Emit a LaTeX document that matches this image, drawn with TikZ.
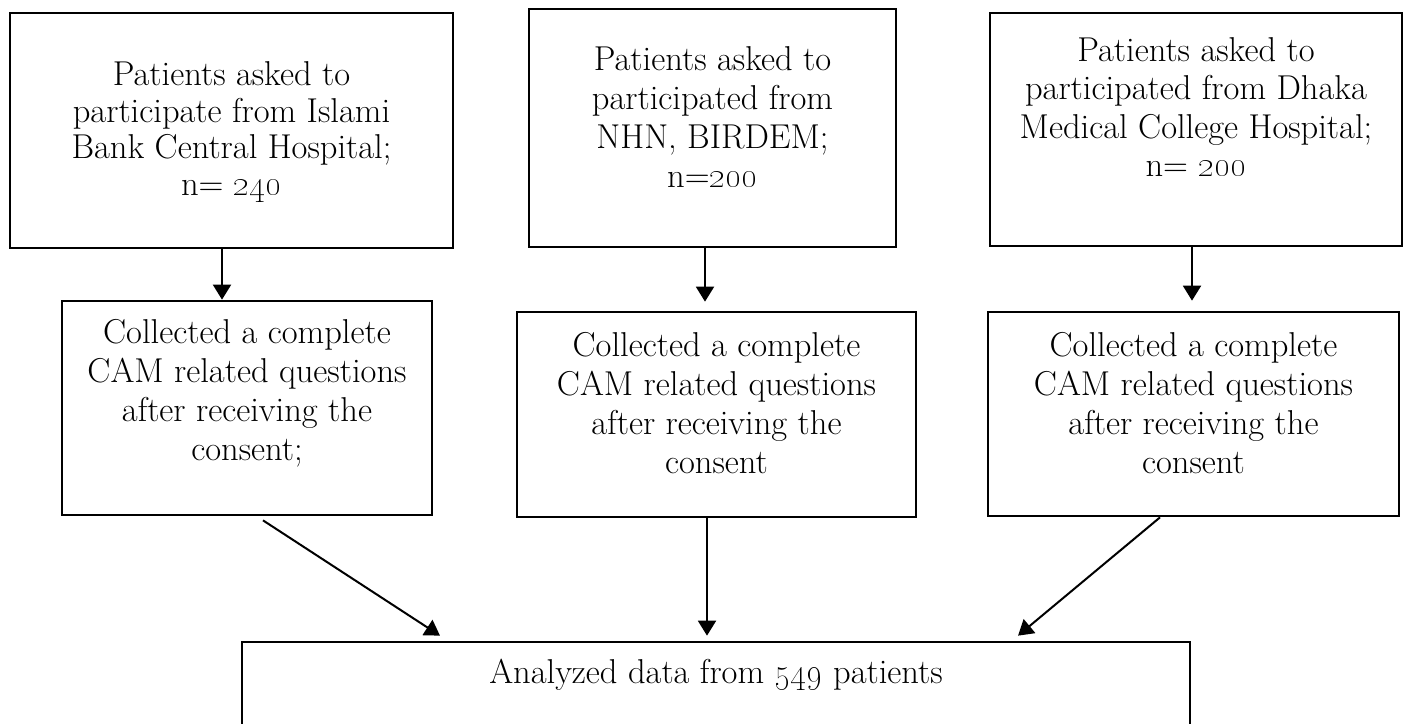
\documentclass[tikz,border=0pt]{standalone}
\usetikzlibrary{positioning}
\usetikzlibrary{arrows.meta,calc}
\tikzstyle{box}=[rectangle,draw=black,line width=2.7pt,inner sep=0pt]
\tikzstyle{boxtext}=[align=center,inner sep=0pt]
\tikzstyle{edge} = [draw,line width=2pt,-{Triangle[length=15pt,width=18pt]}]
\newcommand{\oldnum}[1]{{\fontencoding{TS1}\selectfont #1}}

\begin{document}
\begin{tikzpicture}[x=1pt,y=-1pt]
    \useasboundingbox (0,0) rectangle (1404,723);
    % First we draw the boxes
    \foreach \pos/\name/\w/\h in {{(231.5,130.5)/ia/443/235}, {(712.5,128)/ib/367/238}, {(1196,129.5)/ic/412/233}, {(247,408)/ca/370/214}, {(716.5,414.5)/cb/399/205}, {(1193.5,414)/cc/411/204}, {(716,722)/an/948/160}}
        \node[box,minimum width=\w pt,minimum height=\h pt] (\name) at \pos {};

    % Then the texts inside the boxes
    \foreach \name/\dy/\ls/\txt in {ia/-1.5/36.5/{Patients asked to\\participate from Islami\\Bank Central Hospital;\\n= \oldnum{240}}, ib/11/38.7/{Patients asked to\\participated from\\NHN, BIRDEM;\\n=\oldnum{200}}, ic/22.5/38.5/{Patients asked to\\participated from Dhaka\\Medical College Hospital;\\n= \oldnum{200}}, ca/15/39/{Collected a complete\\CAM related questions\\after receiving the\\consent;}, cb/11.5/39/{Collected a complete\\CAM related questions\\after receiving the\\consent}, cc/11/39/{Collected a complete\\CAM related questions\\after receiving the\\consent}}
        \node[boxtext,font=\fontsize{34.5}{\ls}\selectfont] (\name-t) at ([yshift=\dy pt]\name.center) {\txt};
    \node[boxtext,font=\fontsize{34.5}{38.5}\selectfont] (an-t) at ([yshift=-34pt]an.north) {Analyzed data from \oldnum{549} patients};

    % Connect boxes with arrows
    \path[edge] ([xshift=-9.5pt]ia.south) -- ([xshift=-25pt]ca.north);
    \path[edge] ([xshift=-7.5pt]ib.south) -- ([xshift=-11.5pt,yshift=9pt]cb.north);
    \path[edge] ([xshift=-4pt]ic.south) -- ([xshift=-1.5pt,yshift=10pt]cc.north);
    \path[edge] ([xshift=16pt,yshift=-4pt]ca.south) -- ([xshift=-276pt,yshift=5pt]an.north);
    \path[edge] ([xshift=-9.5pt]cb.south) -- ([xshift=-9pt,yshift=5pt]an.north);
    \path[edge] ([xshift=-33.5pt]cc.south) -- ([xshift=302pt,yshift=5pt]an.north);
\end{tikzpicture}
\end{document}
